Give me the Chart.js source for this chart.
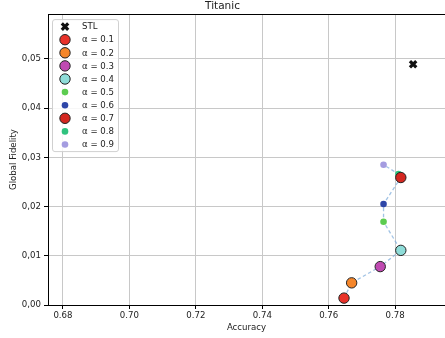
<!DOCTYPE html>
<html>
<head>
<meta charset="utf-8">
<script src="https://cdn.jsdelivr.net/npm/chart.js@4"></script>
<style>
  html, body { margin: 0; padding: 0; background: #fff; overflow: hidden; }
  canvas { display: block; }
</style>
</head>
<body>
<canvas id="myChart" width="445" height="338"></canvas>
<script>
const alphas = ["0.1", "0.2", "0.3", "0.4", "0.5", "0.6", "0.7", "0.8", "0.9"];
const accuracy = [0.7646, 0.7669, 0.7755, 0.7817, 0.7765, 0.7765, 0.7817, 0.781, 0.7765];
const fidelity = [0.0014, 0.0045, 0.0078, 0.0111, 0.0169, 0.0205, 0.0259, 0.0266, 0.0285];
const stlAccuracy = [0.7854];
const stlFidelity = [0.0489];
const xTicks = [0.68, 0.7, 0.72, 0.74, 0.76, 0.78];
const yTicks = [0, 0.01, 0.02, 0.03, 0.04, 0.05];

const colors = ["#e8322a", "#f5862a", "#c04ab2", "#8edcd8", "#5ccc50", "#2e46a8", "#d42720", "#2fc27e", "#a49ce0"];
const big = [true, true, true, true, false, false, true, false, false];

const FONT = "'DejaVu Sans', sans-serif";
const TXT = "#222";

const ctx = document.getElementById("myChart");

const datasets = [
  {
    label: "STL",
    data: stlAccuracy.map((a, i) => ({ x: a, y: stlFidelity[i] })),
    pointStyle: "crossRot",
    pointRadius: 4.5,
    pointBorderWidth: 3.2,
    borderColor: "#111",
    backgroundColor: "#111",
    order: 1,
  },
];
alphas.forEach((a, i) => {
  datasets.push({
    label: "α = " + a,
    data: [{ x: accuracy[i], y: fidelity[i] }],
    pointStyle: "circle",
    pointRadius: big[i] ? 5.2 : 3.3,
    pointBorderWidth: big[i] ? 1 : 0,
    borderColor: big[i] ? "#222" : colors[i],
    backgroundColor: colors[i],
    order: 2,
  });
});
datasets.push({
  type: "line",
  label: "path",
  hideLegend: true,
  data: alphas.map((a, i) => ({ x: accuracy[i], y: fidelity[i] })),
  showLine: true,
  borderColor: "rgba(130,175,220,0.75)",
  borderWidth: 1.3,
  borderDash: [3.5, 2.5],
  pointRadius: 0,
  fill: false,
  order: 10,
});

// matplotlib style legend box in upper left of plot
const boxLegend = {
  id: "boxLegend",
  afterDraw(chart) {
    const c = chart.ctx;
    const items = chart.data.datasets.filter((d) => !d.hideLegend);
    const x0 = chart.chartArea.left + 4.5;
    const y0 = chart.chartArea.top + 5.5;
    const w = 66;
    const h = 132;
    c.save();
    c.globalAlpha = 0.85;
    c.fillStyle = "#fff";
    c.beginPath();
    c.roundRect(x0, y0, w, h, 2.5);
    c.fill();
    c.globalAlpha = 1;
    c.strokeStyle = "#d0d0d0";
    c.lineWidth = 1;
    c.stroke();
    items.forEach((d, i) => {
      const ry = y0 + 7 + i * 13.1;
      c.fillStyle = d.backgroundColor;
      c.strokeStyle = d.borderColor;
      c.lineWidth = d.pointBorderWidth;
      Chart.helpers.drawPoint(
        c,
        { pointStyle: d.pointStyle, rotation: 0, radius: d.pointRadius, borderWidth: d.pointBorderWidth },
        x0 + 12.5,
        ry
      );
      c.fillStyle = TXT;
      c.font = "8.6px " + FONT;
      c.textBaseline = "middle";
      c.textAlign = "left";
      c.fillText(d.label, x0 + 29.5, ry + 0.5);
    });
    c.restore();
  },
};

// top spine
const topSpine = {
  id: "topSpine",
  afterDraw(chart) {
    const c = chart.ctx;
    const a = chart.chartArea;
    c.save();
    c.strokeStyle = "#000";
    c.lineWidth = 1;
    c.beginPath();
    c.moveTo(a.left, Math.round(a.top) + 0.5);
    c.lineTo(a.right, Math.round(a.top) + 0.5);
    c.stroke();
    c.restore();
  },
};

const keepTicks = (list) => (axis) => {
  axis.ticks = list.map((v) => ({ value: v }));
};

new Chart(ctx, {
  type: "scatter",
  data: { datasets },
  options: {
    responsive: false,
    animation: false,
    layout: { padding: 0, autoPadding: false },
    scales: {
      x: {
        type: "linear",
        min: 0.6755,
        max: 0.795,
        afterBuildTicks: keepTicks(xTicks),
        afterFit: (axis) => {
          axis.height = 33;
          axis.paddingLeft = 0;
          axis.paddingRight = 0;
        },
        grid: { color: "#c8c8c8", lineWidth: 1, tickColor: "#000", tickLength: 4 },
        border: { color: "#000", width: 1 },
        ticks: {
          color: TXT,
          font: { family: FONT, size: 8.6 },
          padding: 2,
          maxRotation: 0,
          autoSkip: false,
          callback: (v) => Number(v).toFixed(2),
        },
        title: {
          display: true,
          text: "Accuracy",
          color: TXT,
          font: { family: FONT, size: 8.6 },
          padding: { top: 2, bottom: 5 },
        },
      },
      y: {
        type: "linear",
        min: 0,
        max: 0.0591,
        afterBuildTicks: keepTicks(yTicks),
        afterFit: (axis) => {
          axis.width = 48;
          axis.paddingTop = 0;
          axis.paddingBottom = 0;
        },
        grid: { color: "#c8c8c8", lineWidth: 1, tickColor: "#000", tickLength: 4 },
        border: { color: "#000", width: 1 },
        ticks: {
          color: TXT,
          font: { family: FONT, size: 8.6 },
          padding: 3,
          autoSkip: false,
          callback: (v) => Number(v).toFixed(2).replace(".", ","),
        },
        title: {
          display: true,
          text: "Global Fidelity",
          color: TXT,
          font: { family: FONT, size: 8.6 },
          padding: { top: 9, bottom: 2 },
        },
      },
    },
    plugins: {
      legend: { display: false },
      tooltip: { enabled: false },
      title: {
        display: true,
        text: "Titanic",
        color: TXT,
        font: { family: FONT, size: 10.5, weight: "normal" },
        padding: { top: 0, bottom: 1.5 },
      },
    },
  },
  plugins: [boxLegend, topSpine],
});
</script>
</body>
</html>
